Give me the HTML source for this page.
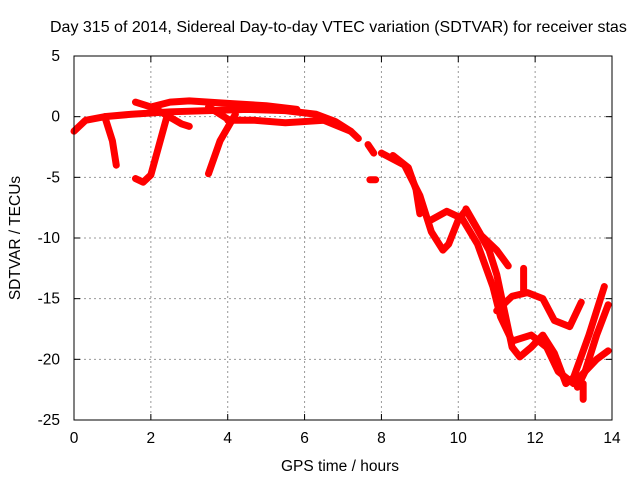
<!DOCTYPE html>
<html><head><meta charset="utf-8"><style>
body{margin:0;background:#fff;}
svg text{font-family:"Liberation Sans",sans-serif;font-size:15.5px;fill:#000;}
</style></head><body>
<svg width="640" height="480" xmlns="http://www.w3.org/2000/svg">
<rect width="640" height="480" fill="#fff"/>
<text x="50" y="32" style="font-size:16px">Day 315 of 2014, Sidereal Day-to-day VTEC variation (SDTVAR) for receiver stas</text>
<g id="grid"></g>
<g id="ticks"></g>
<g id="series"></g>
<rect x="74" y="56" width="538" height="364" fill="none" stroke="#000" stroke-width="1"/>
<text x="340" y="471" text-anchor="middle">GPS time / hours</text>
<text transform="translate(20,238) rotate(-90)" text-anchor="middle">SDTVAR / TECUs</text>
</svg>
<script>
const xTicks=[0,2,4,6,8,10,12,14];
const yTicks=[5,0,-5,-10,-15,-20,-25];
const trackA=[[0,-1.2],[0.3,-0.3],[0.8,0],[1.5,0.2],[2.5,0.4],[3.5,0.5],[4.5,0.6],[5.5,0.5],[6.3,0.2],[6.8,-0.4],[7.2,-1.2],[7.4,-1.8]];
const trackB=[[1.6,1.2],[2.0,0.8],[2.5,1.2],[3.0,1.3],[4,1.1],[5,0.9],[5.8,0.6]];
const trackC=[[2.2,0.5],[2.8,-0.6],[3.0,-0.8]];
const trackC2=[[3.5,0.8],[4.0,-0.2]];
const dip1=[[0.8,0.0],[1.0,-2],[1.1,-4]];
const dip2=[[1.6,-5.1],[1.8,-5.4],[2.0,-4.8],[2.2,-2.5],[2.4,-0.2],[2.5,0.2]];
const spike3=[[3.5,-4.7],[3.8,-2],[4.2,0.2]];
const lowBand=[[4,-0.3],[4.7,-0.3],[5.5,-0.5],[6.5,-0.3],[7.2,-1.2]];
const scatter1=[[7.65,-2.3],[7.8,-3.0]];
const scatter2=[[7.7,-5.2],[7.85,-5.2]];
const d1=[[8.0,-3],[8.6,-4],[9.0,-6.5],[9.3,-9.5],[9.6,-11],[9.75,-10.5],[10.0,-8.5],[10.2,-7.7],[10.5,-9.3],[10.8,-11],[11.0,-13],[11.2,-16],[11.4,-19],[11.6,-19.8],[11.9,-19],[12.2,-18],[12.5,-19.5],[12.8,-22],[13.0,-21.5],[13.4,-18],[13.8,-14]];
const d0=[[8.3,-3.2],[8.7,-4.2],[8.9,-6],[9.0,-8]];
const d2=[[9.3,-8.5],[9.7,-7.8],[10.1,-8.4],[10.5,-10.5],[10.9,-14],[11.1,-16.5],[11.4,-18.5],[11.9,-18],[12.3,-19],[12.6,-21],[13.0,-22],[13.3,-21],[13.6,-18],[13.9,-15.5]];
const d3=[[10.2,-7.6],[10.6,-9.8],[11.0,-11],[11.3,-12.3]];
const d4=[[11.0,-16],[11.4,-14.8],[11.8,-14.5],[12.2,-15],[12.5,-16.8],[12.9,-17.3],[13.2,-15.3]];
const d5=[[13.1,-22.3],[13.3,-21],[13.6,-20],[13.9,-19.3]];
const d6=[[11.7,-12.5],[11.7,-14.5]];
const d7=[[13.25,-23.3],[13.25,-22]];
const tracks=[trackA,trackB,trackC,trackC2,dip1,dip2,spike3,lowBand,scatter1,scatter2,d0,d1,d2,d3,d4,d5,d6,d7];
const X=h=>74+h*538/14;
const Y=v=>56+(5-v)*364/30;
const NS="http://www.w3.org/2000/svg";
const grid=document.getElementById('grid'),ticks=document.getElementById('ticks'),series=document.getElementById('series');
function mk(tag,at,parent){const e=document.createElementNS(NS,tag);for(const k in at)e.setAttribute(k,at[k]);parent.appendChild(e);return e;}
xTicks.forEach(t=>{const x=X(t);
 if(t>0&&t<14){const g=mk('line',{x1:x,x2:x,y1:56,y2:420,stroke:'#999','stroke-dasharray':'2,3'},grid);
 
 }
 mk('line',{x1:x,x2:x,y1:420,y2:414,stroke:'#000'},ticks);
 mk('line',{x1:x,x2:x,y1:56,y2:62,stroke:'#000'},ticks);
 const tx=mk('text',{x:x,y:443,'text-anchor':'middle'},ticks);tx.textContent=t;
 
 
});
yTicks.forEach(t=>{const y=Y(t);
 if(t<5&&t>-25){const g=mk('line',{x1:74,x2:612,y1:y,y2:y,stroke:'#999','stroke-dasharray':'2,3'},grid);
 
 }
 mk('line',{x1:74,x2:80,y1:y,y2:y,stroke:'#000'},ticks);
 mk('line',{x1:612,x2:606,y1:y,y2:y,stroke:'#000'},ticks);
 const tx=mk('text',{x:60,y:y+5,'text-anchor':'end'},ticks);tx.textContent=t;
 
 
});
tracks.forEach(tr=>{
 const p=mk('polyline',{points:tr.map(d=>X(d[0])+','+Y(d[1])).join(' '),fill:'none',stroke:'#ff0000','stroke-width':7,'stroke-linejoin':'round','stroke-linecap':'round'},series);
 
 
});
</script>
</body></html>
